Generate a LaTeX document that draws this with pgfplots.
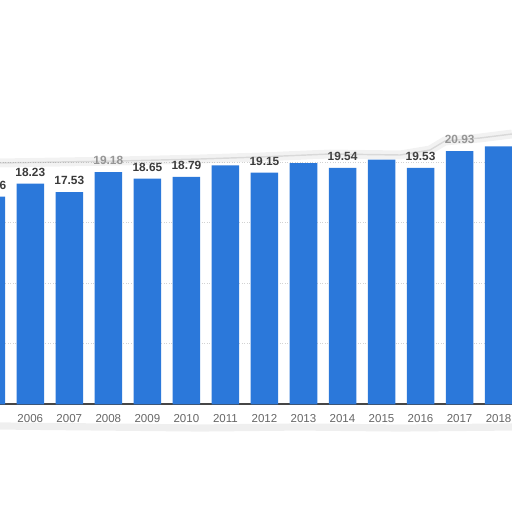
\documentclass[border=0pt]{standalone}
\usepackage{pgfplots}
\pgfplotsset{compat=1.18}
\usepackage{fontspec}
\setmainfont{Liberation Sans}

\definecolor{barblue}{HTML}{2B78DA}
\definecolor{lblgray}{HTML}{3A3A3A}
\definecolor{tickgray}{HTML}{666666}

\begin{document}
\begin{tikzpicture}
\begin{axis}[
    width=10cm, height=10cm, scale only axis,
    xmin=2005.224, xmax=2018.342,
    ymin=-8.90, ymax=33.41,
    clip=false,
    axis line style={draw=none},
    major tick length=0pt,
    ytick={5,10,15,20}, yticklabels={},
    ymajorgrids,
    grid style={densely dotted, gray!35, line width=0.4pt},
    extra y ticks={0}, extra y tick labels={},
    extra y tick style={grid style={solid, draw=gray!55!black, line width=0.9pt}},
    xtick={2005,...,2018},
    xticklabel style={anchor=center, yshift=1.83cm, text=tickgray,
        font=\fontsize{6.4}{7}\selectfont},
    /pgf/number format/1000 sep=,
    /pgf/number format/assume math mode=true,
]
    % bars
    \addplot[ybar, bar width=0.705, fill=barblue, draw=none]
    coordinates {(2005,17.16) (2006,18.23) (2007,17.53) (2008,19.18) (2009,18.65)
                 (2010,18.79) (2011,19.75) (2012,19.15) (2013,19.94) (2014,19.54)
                 (2015,20.21) (2016,19.53) (2017,20.93) (2018,21.32)};
    % value labels (only those left visible by the torn edge)
    \addplot[draw=none, mark=none, point meta=y,
        nodes near coords={\pgfmathprintnumber[fixed,fixed zerofill,precision=2]{\pgfplotspointmeta}},
        every node near coord/.style={anchor=base, inner sep=0pt, yshift=0.145cm,
            text=lblgray, font=\bfseries\fontsize{6.6}{7}\selectfont}]
    coordinates {(2005,17.16) (2006,18.23) (2007,17.53) (2009,18.65)
                 (2010,18.79) (2012,19.15) (2014,19.54) (2016,19.53)};
    \addplot[draw=none, mark=none, point meta=y,
        nodes near coords={\pgfmathprintnumber[fixed,fixed zerofill,precision=2]{\pgfplotspointmeta}},
        every node near coord/.style={anchor=base, inner sep=0pt, yshift=0.145cm,
            text=gray!80, font=\bfseries\fontsize{6.6}{7}\selectfont}]
    coordinates {(2008,19.18) (2017,20.93)};
\end{axis}
% torn paper edges, in pixel units from the top left corner
\begin{scope}[shift={(current axis.north west)}, x=0.01953125cm, y=-0.01953125cm]
    \draw[gray, opacity=0.10, line width=5pt]
        (0,163) -- (60,162) -- (120,161) -- (200,159) -- (260,157) -- (330,154)
        -- (400,155) -- (430,150) -- (445,141) -- (480,138) -- (512,134);
    \draw[gray, opacity=0.22, line width=0.8pt]
        (0,163) -- (60,162) -- (120,161) -- (200,159) -- (260,157) -- (330,154)
        -- (400,155) -- (430,150) -- (445,141) -- (480,138) -- (512,134);
    \draw[gray, opacity=0.13, line width=4pt]
        (0,426) -- (100,427) -- (200,428) -- (300,427) -- (400,428) -- (512,427);
\end{scope}
\pgfresetboundingbox
\path (current axis.south west) rectangle (current axis.north east);
\end{tikzpicture}
\end{document}
